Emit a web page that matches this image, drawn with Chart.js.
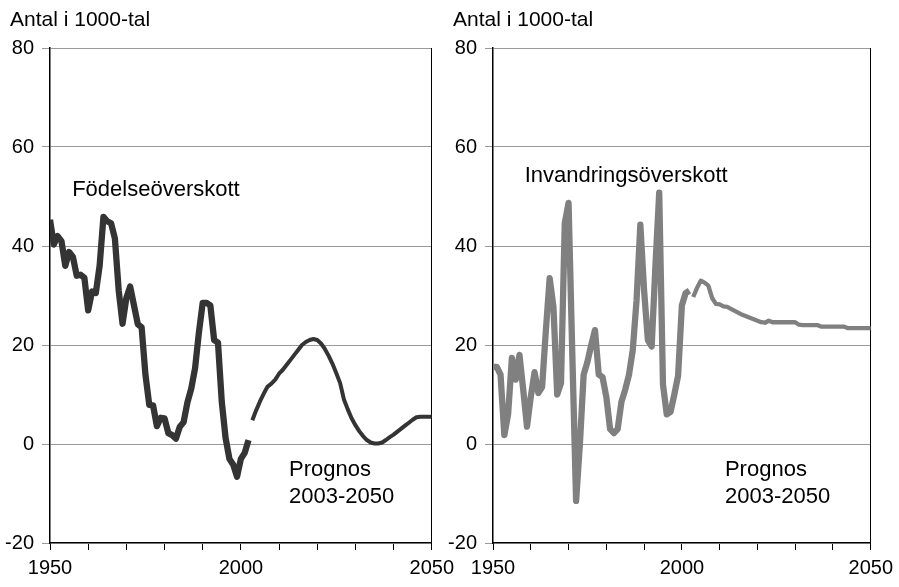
<!DOCTYPE html>
<html>
<head>
<meta charset="utf-8">
<script src="https://cdn.jsdelivr.net/npm/chart.js@4.4.1/dist/chart.umd.min.js"></script>
<style>
  html, body { margin:0; padding:0; background:#fff; }
  #wrap { position:relative; width:899px; height:587px; overflow:hidden; background:#fff; }
  .c { position:absolute; top:0; }
</style>
</head>
<body>
<div id="wrap">
  <div class="c" style="left:0;width:460px;height:587px"><canvas id="left"></canvas></div>
  <div class="c" style="left:440px;width:459px;height:587px"><canvas id="right"></canvas></div>
</div>
<script>
// ---- Data ----
const histYears = [1950,1951,1952,1953,1954,1955,1956,1957,1958,1959,
  1960,1961,1962,1963,1964,1965,1966,1967,1968,1969,
  1970,1971,1972,1973,1974,1975,1976,1977,1978,1979,
  1980,1981,1982,1983,1984,1985,1986,1987,1988,1989,
  1990,1991,1992,1993,1994,1995,1996,1997,1998,1999,
  2000,2001,2002];
const forecastYears = [2003,2004,2005,2006,2007,2008,2009,2010,2011,2012,
  2013,2014,2015,2016,2017,2018,2019,2020,2021,2022,
  2023,2024,2025,2026,2027,2028,2029,2030,2031,2032,
  2033,2034,2035,2036,2037,2038,2039,2040,2041,2042,
  2043,2044,2045,2046,2047,2048,2049,2050];

// Födelseöverskott (natural increase), thousands
const birthSurplusHist = [45.3,40.3,42,41,36,38.8,37.8,34,34.2,33.6,
  27,30.8,30.5,36,45.9,45,44.6,41.5,31,24.3,
  29.5,31.8,28,24.2,23.6,14,7.9,7.8,3.6,5.3,
  5.2,2.2,1.8,1.1,3.5,4.4,8.4,11.2,15.3,22.5,
  28.5,28.5,28,21,20.5,8.5,1.2,-3,-4.2,-6.6,
  -3,-1.8,0.8];
const birthSurplusForecast = [4.8,6.8,8.6,10.2,11.6,12.2,13,14.2,15,16,
  17,18,19,20,20.6,21,21.2,21,20.3,19.2,
  17.8,16.2,14.3,12.3,9,7,5.2,3.8,2.6,1.6,
  0.8,0.3,0.1,0.1,0.3,0.8,1.4,1.9,2.5,3.1,
  3.7,4.3,4.9,5.4,5.5,5.5,5.5,5.5];

// Invandringsöverskott (net migration), thousands
const migrationHist = [15.6,15.6,14,1.8,6,17.4,13,18,11,3.5,
  9.5,14.5,10.3,11.5,23,33.5,27.7,10,12.3,44.6,
  48.7,18,-11.5,0,14,16.6,20,23,14,13.5,
  9.5,3,2.2,3,8.5,11,14,19,29,44.3,
  31,21,19.7,36,50.8,12,6,6.5,10,13.8,
  28,30.5,31];
const migrationForecast = [29.7,31.5,33,32.6,32,29.5,28.3,28.2,27.8,27.7,
  27.3,26.9,26.5,26.1,25.8,25.5,25.2,24.9,24.6,24.5,
  24.9,24.6,24.6,24.6,24.6,24.6,24.6,24.6,24.1,24,
  24,24,24,24,23.7,23.7,23.7,23.7,23.7,23.7,
  23.7,23.4,23.4,23.4,23.4,23.4,23.4,23.4];

const xLabels = [1950, 2000, 2050];
const yTicks = [-20, 0, 20, 40, 60, 80];
const axisTitle = 'Antal i 1000-tal';
const forecastText = ['Prognos', '2003-2050'];

function pts(xs, ys) { return xs.map((x, i) => ({ x: x, y: ys[i] })); }

const FONT = "'Liberation Sans', Arial, sans-serif";

const textPlugin = {
  id: 'texts',
  afterDraw(chart, args, opts) {
    const ctx = chart.ctx, xs = chart.scales.x, ys = chart.scales.y;
    ctx.save();
    ctx.fillStyle = '#000';
    ctx.textAlign = 'left';
    ctx.textBaseline = 'alphabetic';
    ctx.font = '21px ' + FONT;
    ctx.fillText(axisTitle, chart.chartArea.left - 40, 25.5);
    ctx.textBaseline = 'middle';
    ctx.font = '22px ' + FONT;
    opts.items.forEach(t => {
      ctx.fillText(t.text, xs.getPixelForValue(t.x), ys.getPixelForValue(t.y));
    });
    ctx.restore();
  }
};

function makeChart(id, hist, fc, color, histW, fcW, yWidth, padRight, items) {
  return new Chart(document.getElementById(id), {
    type: 'line',
    data: {
      datasets: [
        { data: pts(histYears, hist), borderColor: color, borderWidth: histW, pointRadius: 0, tension: 0, fill: false, borderJoinStyle: 'round', borderCapStyle: 'butt' },
        { data: pts(forecastYears, fc), borderColor: color, borderWidth: fcW, pointRadius: 0, tension: 0, fill: false, borderJoinStyle: 'round', borderCapStyle: 'butt' }
      ]
    },
    options: {
      responsive: true,
      maintainAspectRatio: false,
      animation: false,
      events: [],
      layout: { padding: { top: 48, right: padRight, left: 0, bottom: 0 } },
      plugins: { legend: { display: false }, tooltip: { enabled: false }, title: { display: false }, texts: { items: items } },
      scales: {
        x: {
          type: 'linear', min: 1950, max: 2050,
          afterFit: s => { s.height = 44; },
          afterBuildTicks: s => { s.ticks = []; for (let v = 1950; v <= 2050; v += 10) s.ticks.push({ value: v }); },
          ticks: {
            autoSkip: false, maxRotation: 0, padding: 6, color: '#000',
            font: { family: FONT, size: 20 },
            callback: v => xLabels.includes(v) ? String(v) : ''
          },
          grid: { display: true, drawOnChartArea: false, drawTicks: true, tickLength: 7, color: '#000', tickWidth: 1 },
          border: { display: true, color: '#000', width: 1.2 }
        },
        y: {
          type: 'linear', min: -20, max: 80, position: 'left',
          afterFit: s => { s.width = yWidth; },
          afterBuildTicks: s => { s.ticks = yTicks.map(v => ({ value: v })); },
          ticks: { padding: 8, color: '#000', font: { family: FONT, size: 20 } },
          grid: { color: '#9a9a9a', lineWidth: 1, tickLength: 8, tickColor: '#9a9a9a' },
          border: { display: true, color: '#000', width: 1.5 }
        },
        y2: {
          type: 'linear', min: -20, max: 80, position: 'right',
          afterFit: s => { s.width = 0; },
          ticks: { display: false },
          grid: { display: false, drawTicks: false },
          border: { display: true, color: '#000', width: 1 }
        }
      }
    },
    plugins: [textPlugin]
  });
}

makeChart('left', birthSurplusHist, birthSurplusForecast, '#343434', 6.3, 4, 50, 28, [
  { text: 'Födelseöverskott', x: 1955.8, y: 51.3 },
  { text: forecastText[0], x: 2012.6, y: -5.3 },
  { text: forecastText[1], x: 2012.6, y: -10.7 }
]);
makeChart('right', migrationHist, migrationForecast, '#808080', 6.3, 4.3, 53, 23, [
  { text: 'Invandringsöverskott', x: 1958.4, y: 54.1 },
  { text: forecastText[0], x: 2011.4, y: -5.3 },
  { text: forecastText[1], x: 2011.4, y: -10.7 }
]);
</script>
</body>
</html>
